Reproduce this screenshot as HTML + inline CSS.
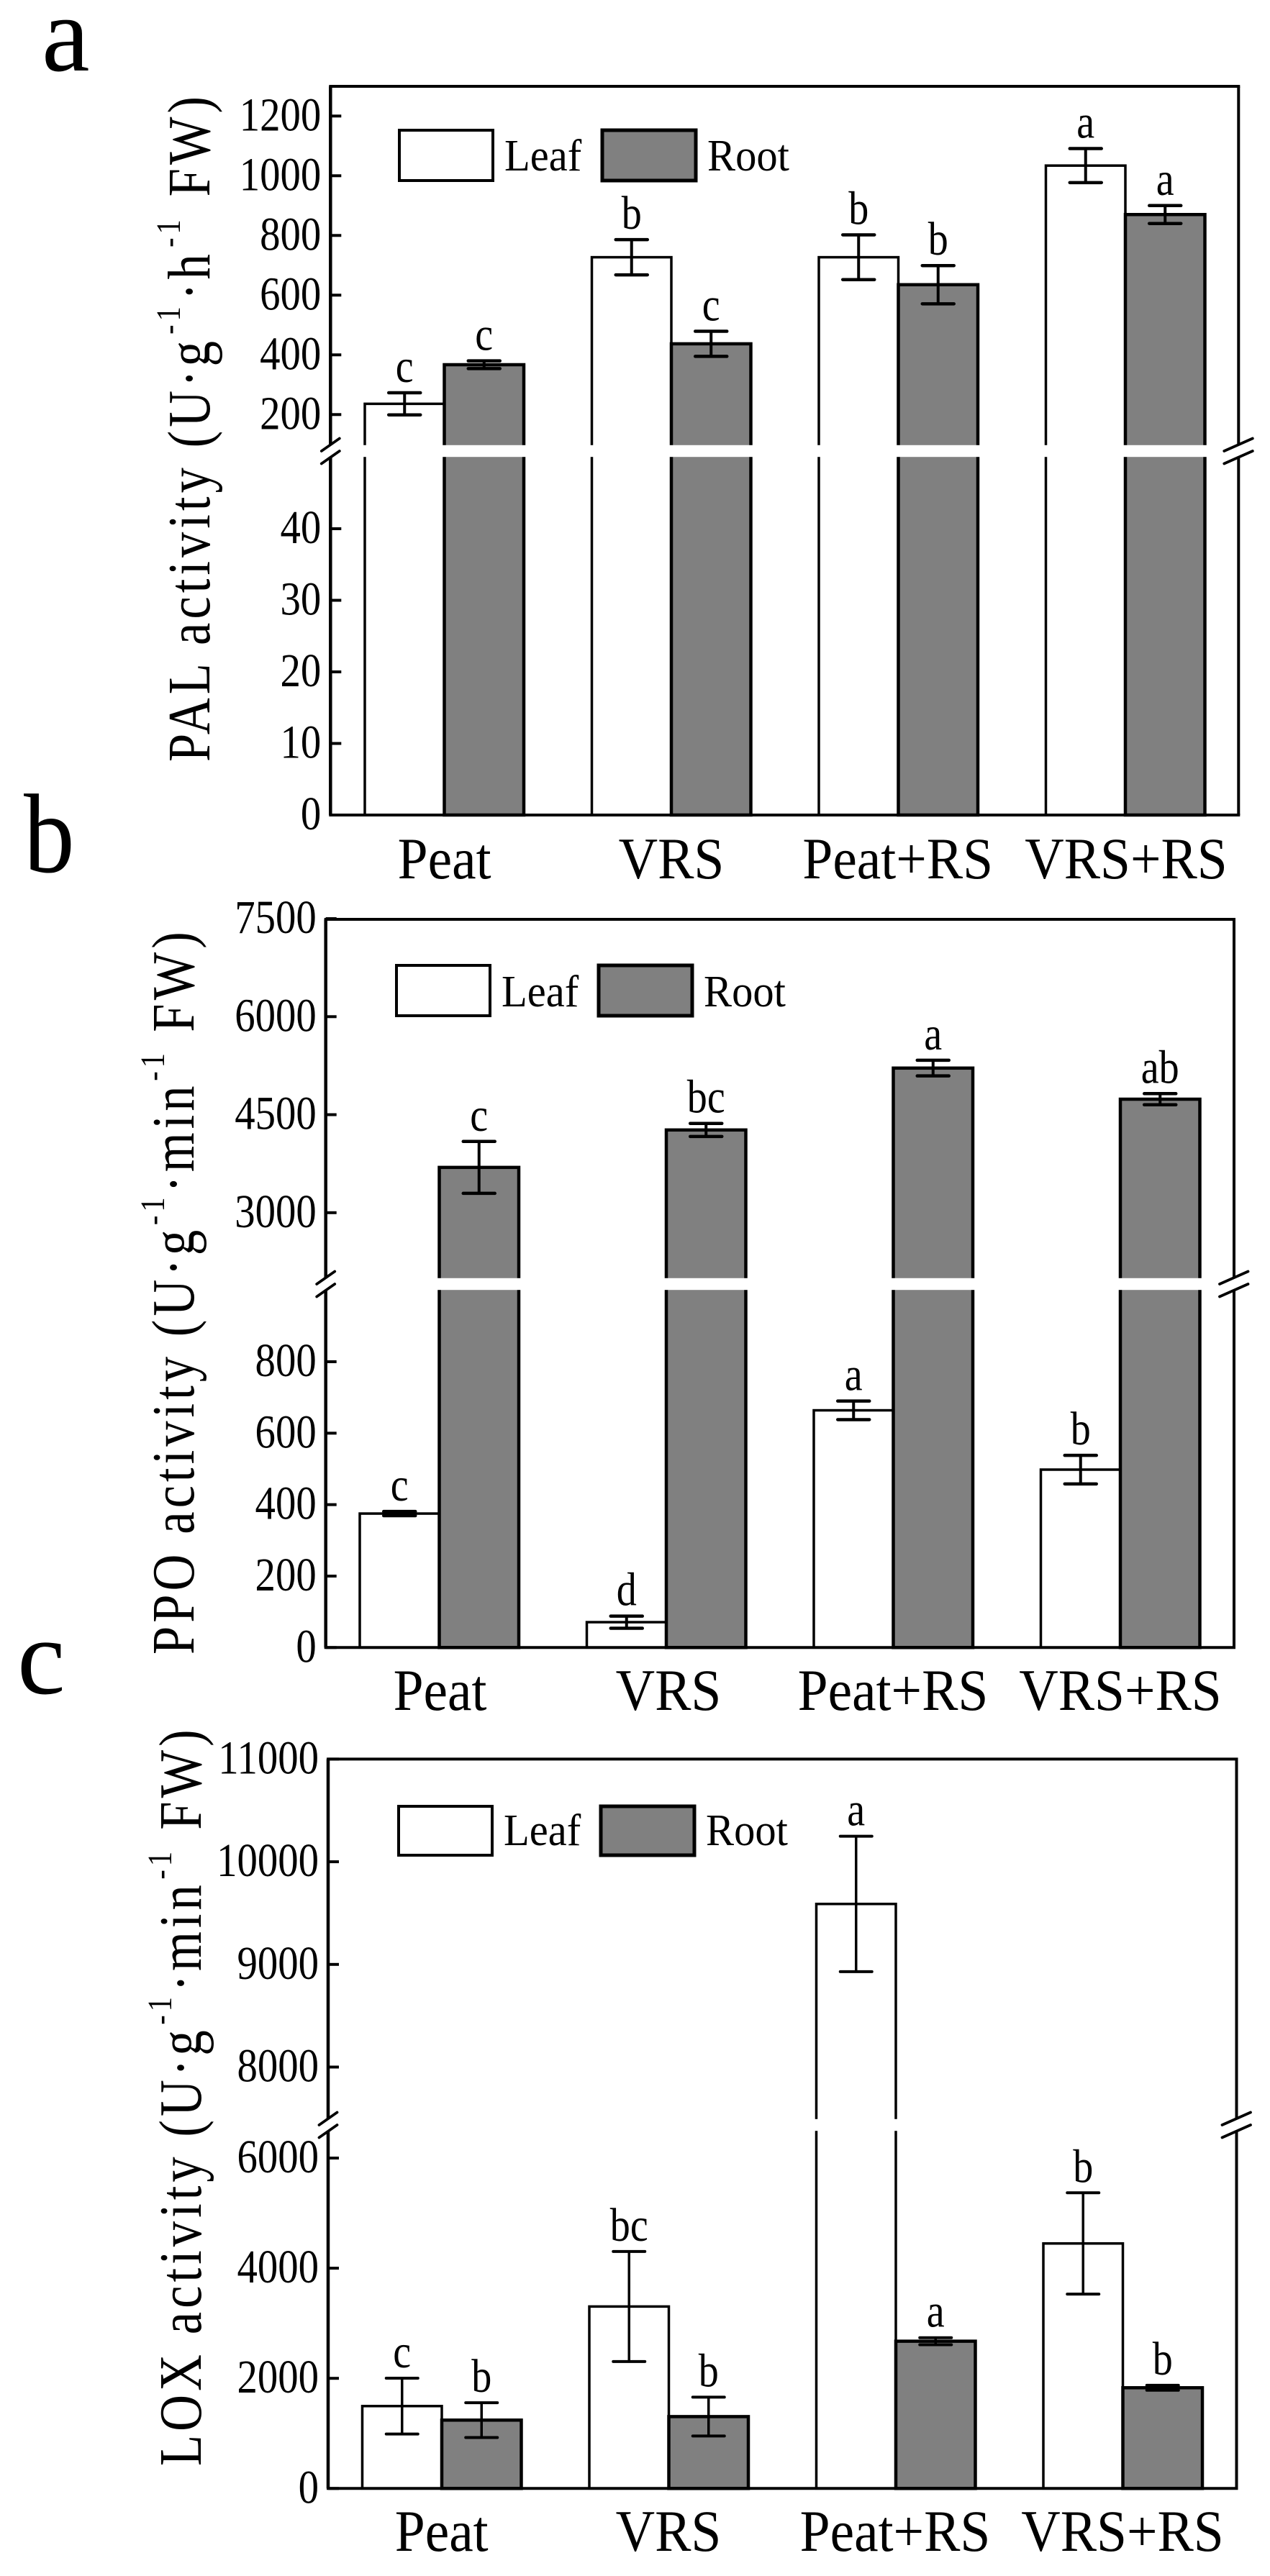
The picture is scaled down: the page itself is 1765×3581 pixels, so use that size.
<!DOCTYPE html>
<html lang="en">
<head>
<meta charset="utf-8">
<title>PAL, PPO and LOX activity</title>
<style>
html,body{margin:0;padding:0;background:#fff;}
svg{display:block;font-family:"Liberation Serif",serif;fill:#000;}
.axis-title{letter-spacing:6px;}
</style>
</head>
<body>
<svg id="figure" xmlns="http://www.w3.org/2000/svg" width="1765" height="3581" viewBox="0 0 1765 3581">
  <rect width="1765" height="3581" fill="#fff"/>
  <g id="panel-a"></g>
  <g id="panel-b"></g>
  <g id="panel-c"></g>
  <text x="58" y="98" font-size="150">a</text>
  <text transform="translate(33 1212) scale(0.9 1)" font-size="157">b</text>
  <text x="24" y="2354" font-size="150">c</text>
  <text class="axis-title" transform="translate(291,1059) rotate(-90) scale(0.84 1)" font-size="84">PAL activity (U·g<tspan dx="5" dy="-41" font-size="48">-1</tspan><tspan dx="5" dy="41">·h</tspan><tspan dx="5" dy="-41" font-size="48">-1</tspan><tspan dx="5" dy="41"> FW)</tspan></text>
  <text class="axis-title" transform="translate(269,2300) rotate(-90) scale(0.84 1)" font-size="84">PPO activity (U·g<tspan dx="2" dy="-41" font-size="48">-1</tspan><tspan dx="2" dy="41">·min</tspan><tspan dx="2" dy="-41" font-size="48">-1</tspan><tspan dx="2" dy="41"> FW)</tspan></text>
  <text class="axis-title" transform="translate(279,3428) rotate(-90) scale(0.84 1)" font-size="84">LOX activity (U·g<tspan dx="3" dy="-41" font-size="48">-1</tspan><tspan dx="3" dy="41">·min</tspan><tspan dx="3" dy="-41" font-size="48">-1</tspan><tspan dx="3" dy="41"> FW)</tspan></text>
</svg>
<script>
// ---- Shared categories and legend ----
const categories = ["Peat", "VRS", "Peat+RS", "VRS+RS"];
const seriesNames = ["Leaf", "Root"];

// ---- Panel a: PAL activity ----
const palLeaf = [236, 727, 727, 1034];
const palLeafErr = [37, 59, 75, 57];
const palLeafSig = ["c", "b", "b", "a"];
const palRoot = [367, 437, 635, 870];
const palRootErr = [13, 42, 64, 30];
const palRootSig = ["c", "c", "b", "a"];
const palLowerTicks = [0, 10, 20, 30, 40];
const palUpperTicks = [200, 400, 600, 800, 1000, 1200];

// ---- Panel b: PPO activity ----
const ppoLeaf = [375, 71, 664, 498];
const ppoLeafErr = [6, 17, 26, 40];
const ppoLeafSig = ["c", "d", "a", "b"];
const ppoRoot = [3693, 4266, 5213, 4737];
const ppoRootErr = [397, 100, 120, 85];
const ppoRootSig = ["c", "bc", "a", "ab"];
const ppoLowerTicks = [0, 200, 400, 600, 800];
const ppoUpperTicks = [3000, 4500, 6000, 7500];

// ---- Panel c: LOX activity ----
const loxLeaf = [1496, 3304, 9589, 4449];
const loxLeafErr = [507, 1000, 660, 920];
const loxLeafSig = ["c", "bc", "a", "b"];
const loxRoot = [1241, 1305, 2674, 1829];
const loxRootErr = [316, 353, 64, 45];
const loxRootSig = ["b", "b", "a", "b"];
const loxLowerTicks = [0, 2000, 4000, 6000];
const loxUpperTicks = [8000, 9000, 10000, 11000];

const NS = "http://www.w3.org/2000/svg";
const GRAY = "#808080";

function line(parent, name, x1, y1, x2, y2, w, cap) {
  const el = document.createElementNS(NS, "line");
  
  
  el.setAttribute("x1", x1);
  el.setAttribute("y1", y1);
  el.setAttribute("x2", x2);
  el.setAttribute("y2", y2);
  el.setAttribute("stroke", "#000");
  el.setAttribute("stroke-width", w);
  el.setAttribute("stroke-linecap", cap || "butt");
  parent.appendChild(el);
  return el;
}

function rect(parent, name, x, y, w, h, fill, strokeW) {
  const el = document.createElementNS(NS, "rect");
  
  
  el.setAttribute("x", x);
  el.setAttribute("y", y);
  el.setAttribute("width", w);
  el.setAttribute("height", h);
  el.setAttribute("fill", fill);
  if (strokeW) {
    el.setAttribute("stroke", "#000");
    el.setAttribute("stroke-width", strokeW);
  }
  parent.appendChild(el);
  return el;
}

function label(parent, name, x, y, str, size, anchor, sx) {
  const el = document.createElementNS(NS, "text");
  
  
  el.setAttribute("transform", "translate(" + x + " " + y + ") scale(" + sx + " 1)");
  el.setAttribute("font-size", size);
  el.setAttribute("text-anchor", anchor);
  el.textContent = str;
  parent.appendChild(el);
  return el;
}

// Broken y axis: lower and upper segments, each calibrated by two reference points.
function makeYScale(ax) {
  const lower = (ax.lowY - ax.lowRefY) / (ax.lowV1 - ax.lowV0);
  const upper = (ax.upY - ax.upRefY) / (ax.upV1 - ax.upV0);
  return function (v) {
    if (v >= ax.breakValue) return ax.upY - (v - ax.upV0) * upper;
    return ax.lowY - (v - ax.lowV0) * lower;
  };
}

function drawPanel(id, leaf, leafErr, leafSig, root, rootErr, rootSig, lowerTicks, upperTicks, ax, lay) {
  const g = document.getElementById(id);
  const y = makeYScale(ax);
  const barW = lay.barW;
  const xLeaf = function (i) { return lay.x0 + i * lay.step; };
  const xRoot = function (i) { return xLeaf(i) + barW; };

  function bar(i, vals, xf, fill, sw, series) {
    const x = xf(i);
    const top = y(vals[i]);
    rect(g, series + "-bar-" + categories[i], x, top, barW, lay.bottom - top, fill, sw);
    if (top < ax.breakY) {
      rect(g, series + "-bar-break-" + categories[i], x - sw, ax.breakY - 8.2, barW + 2 * sw, 16.4, "#fff", 0);
    }
  }
  function err(i, vals, errs, sigs, xf, series) {
    const cx = xf(i) + barW / 2;
    const hi = y(vals[i] + errs[i]);
    const lo = y(vals[i] - errs[i]);
    line(g, series + "-error-stem-" + categories[i], cx, hi, cx, lo, lay.errW);
    line(g, series + "-error-cap-top-" + categories[i], cx - 22, hi, cx + 22, hi, lay.errW + 0.5, "round");
    line(g, series + "-error-cap-bottom-" + categories[i], cx - 22, lo, cx + 22, lo, lay.errW + 0.5, "round");
    label(g, series + "-significance-" + categories[i], cx, hi - 15, sigs[i], 66, "middle", 0.85);
  }

  categories.forEach(function (c, i) {
    bar(i, leaf, xLeaf, "#fff", 3.5, "leaf");
    bar(i, root, xRoot, GRAY, 4.5, "root");
  });
  categories.forEach(function (c, i) {
    err(i, leaf, leafErr, leafSig, xLeaf, "leaf");
    err(i, root, rootErr, rootSig, xRoot, "root");
    label(g, "x-tick-label-" + c, lay.catX[i], lay.catY, c, 82, "middle", 0.92);
  });

  // Frame with breaks in both vertical sides
  line(g, "frame-top", lay.left - 2, lay.top, lay.right + 2, lay.top, 4);
  line(g, "x-axis", lay.left - 2, lay.bottom, lay.right + 2, lay.bottom, 4);
  line(g, "y-axis-upper", lay.left, lay.top, lay.left, ax.breakY - 9, 4.5);
  line(g, "y-axis-lower", lay.left, ax.breakY + 9, lay.left, lay.bottom, 4.5);
  line(g, "frame-right-upper", lay.right, lay.top, lay.right, ax.breakY - 9, 4);
  line(g, "frame-right-lower", lay.right, ax.breakY + 9, lay.right, lay.bottom, 4);
  [0, 17.5].forEach(function (d, k) {
    line(g, "axis-break-left-" + k, lay.left - 12.5, ax.breakY + d, lay.left + 12.5, ax.breakY + d - 17.5, 3.8, "round");
    line(g, "axis-break-right-" + k, lay.right - 20, ax.breakY + d, lay.right + 19.5, ax.breakY + d - 17.5, 3.8, "round");
  });

  // Tick marks and labels
  lowerTicks.concat(upperTicks).forEach(function (t) {
    const ty = y(t);
    line(g, "y-tick-" + t, lay.left, ty, lay.left + 15, ty, 4);
    label(g, "y-tick-label-" + t, lay.left - 13, ty + 20, String(t), 66, "end", 0.86);
  });

  // Legend
  rect(g, "legend-swatch-leaf", lay.legX1, lay.legY, 130, lay.legH, "#fff", 4);
  rect(g, "legend-swatch-root", lay.legX2, lay.legY, 130, lay.legH, GRAY, 5);
  label(g, "legend-label-leaf", lay.legX1 + 146, lay.legBase, seriesNames[0], 63, "start", 0.93);
  label(g, "legend-label-root", lay.legX2 + 146, lay.legBase, seriesNames[1], 63, "start", 0.93);
}

drawPanel("panel-a", palLeaf, palLeafErr, palLeafSig, palRoot, palRootErr, palRootSig, palLowerTicks, palUpperTicks,
  { lowV0: 0, lowY: 1133, lowV1: 40, lowRefY: 735, upV0: 200, upY: 576.3, upV1: 1200, upRefY: 161.3, breakValue: 100, breakY: 627 },
  { x0: 507, step: 315.5, barW: 110.5, left: 459.3, right: 1721.3, top: 120, bottom: 1133, errW: 4,
    catX: [617.6, 933, 1247.7, 1565], catY: 1221,
    legX1: 555, legX2: 837, legY: 181, legH: 70, legBase: 237 });

drawPanel("panel-b", ppoLeaf, ppoLeafErr, ppoLeafSig, ppoRoot, ppoRootErr, ppoRootSig, ppoLowerTicks, ppoUpperTicks,
  { lowV0: 0, lowY: 2290.3, lowV1: 800, lowRefY: 1893, upV0: 3000, upY: 1685.8, upV1: 6000, upRefY: 1413.3, breakValue: 1500, breakY: 1785 },
  { x0: 500, step: 315.5, barW: 110.5, left: 452.7, right: 1715, top: 1278, bottom: 2290.3, errW: 4,
    catX: [611.5, 929, 1241, 1557], catY: 2377,
    legX1: 551, legX2: 832, legY: 1342, legH: 70, legBase: 1399 });

drawPanel("panel-c", loxLeaf, loxLeafErr, loxLeafSig, loxRoot, loxRootErr, loxRootSig, loxLowerTicks, loxUpperTicks,
  { lowV0: 0, lowY: 3459.3, lowV1: 6000, lowRefY: 3000, upV0: 8000, upY: 2873.5, upV1: 11000, upRefY: 2445.4, breakValue: 7000, breakY: 2954 },
  { x0: 503.5, step: 315.5, barW: 110.5, left: 456, right: 1718.5, top: 2445.4, bottom: 3459.3, errW: 3.5,
    catX: [613.7, 929, 1244, 1560], catY: 3546,
    legX1: 554, legX2: 835, legY: 2511, legH: 68, legBase: 2565 });
</script>
</body>
</html>
